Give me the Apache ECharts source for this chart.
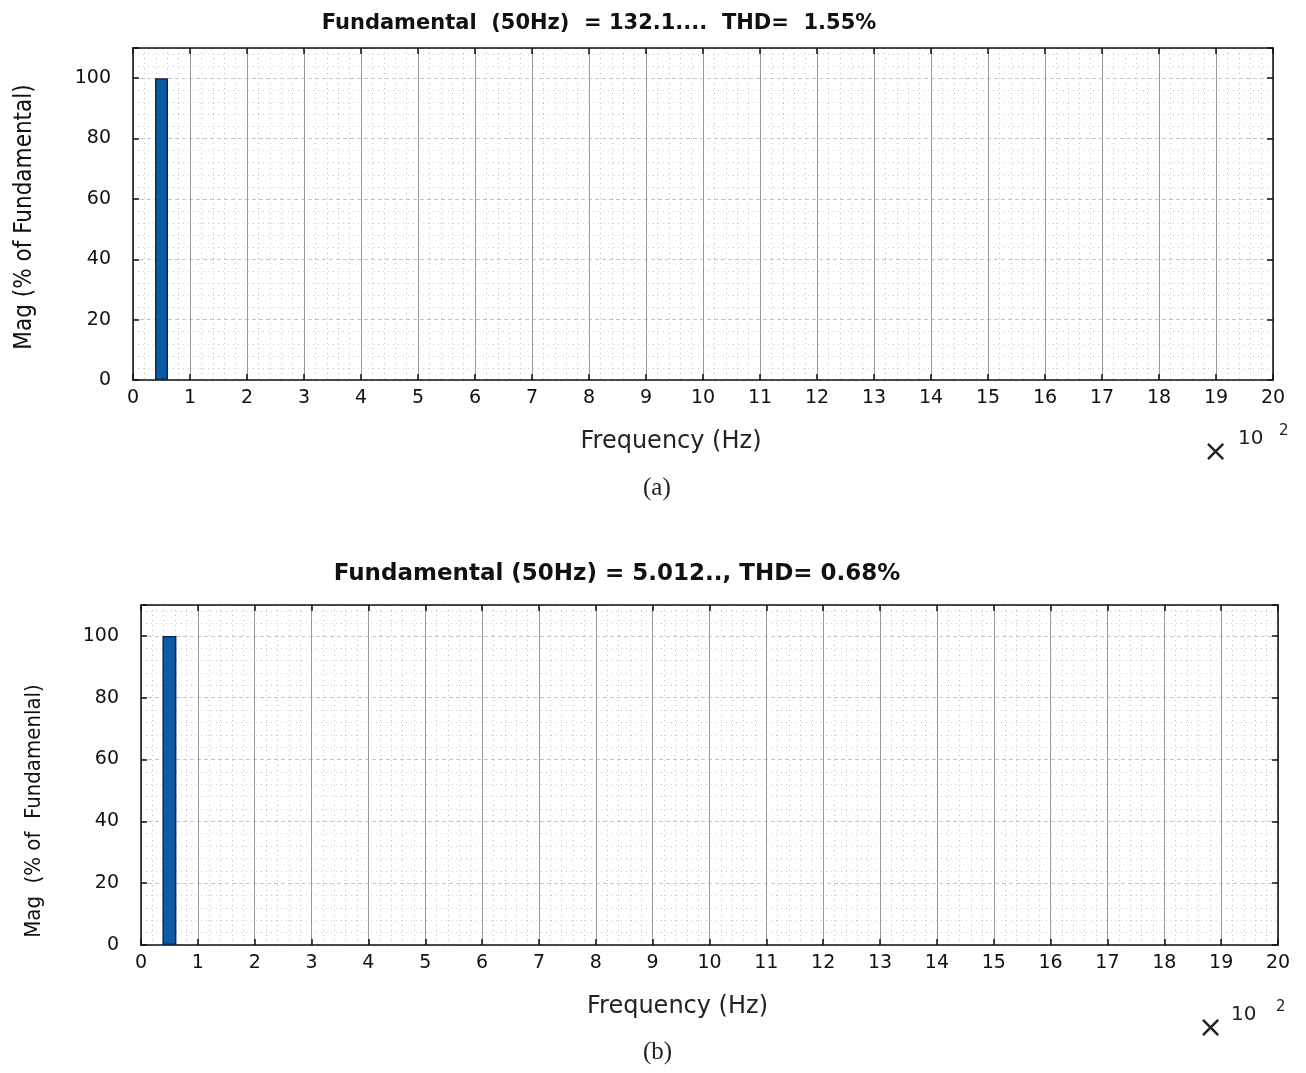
<!DOCTYPE html>
<html><head><meta charset="utf-8">
<script src="https://cdn.jsdelivr.net/npm/echarts@6/dist/echarts.min.js"></script>
<style>html,body{margin:0;padding:0;background:#fff}#c{width:1306px;height:1073px}</style>
</head><body><div id="c"></div>
<script>
// Harmonic spectrum data (frequency in units of x10^2 Hz, magnitude in % of fundamental)
const freqA = [0.5];
const magA = [100];
const freqB = [0.5];
const magB = [100];
const xTicks = ['0','1','2','3','4','5','6','7','8','9','10','11','12','13','14','15','16','17','18','19','20'];
const yTicks = ['0','20','40','60','80','100'];
const titleA = 'Fundamental  (50Hz)  = 132.1....  THD=  1.55%';
const titleB = 'Fundamental (50Hz) = 5.012.., THD= 0.68%';

const chart = echarts.init(document.getElementById('c'));
const tickFont = {fontFamily:'DejaVu Sans', fontSize:19, color:'#111'};

function xAxes(gi){
  const base = {gridIndex:gi, type:'value', min:0, max:20, interval:1,
    axisLine:{show:true, onZero:false, lineStyle:{color:'#111', width:1.5}},
    axisTick:{show:true, inside:true, length:6, lineStyle:{color:'#111', width:1.5}},
  };
  return [
    Object.assign({}, base, {position:'bottom',
      axisLabel:Object.assign({margin:9, formatter:v=>xTicks[v]}, tickFont),
      name:'Frequency (Hz)', nameLocation:'middle', nameGap:50,
      nameTextStyle:{fontFamily:'DejaVu Sans', fontSize:24, color:'#222', padding:[0,64,0,0]},
      splitLine:{show:true, lineStyle:{color:'#999', width:1, type:'solid'}},
      minorTick:{show:true, splitNumber:5, length:0},
      minorSplitLine:{show:true, lineStyle:{color:'#bdbdbd', width:1, type:[1,4]}}
    }),
    Object.assign({}, base, {position:'top', axisLabel:{show:false}, splitLine:{show:false}})
  ];
}
function yAxes(gi, nameText, nameFont){
  const base = {gridIndex:gi, type:'value', min:0, max:110, interval:20,
    axisLine:{show:true, onZero:false, lineStyle:{color:'#111', width:1.5}},
    axisTick:{show:true, inside:true, length:6, lineStyle:{color:'#111', width:1.5}},
  };
  return [
    Object.assign({}, base, {position:'left',
      axisLabel:Object.assign({margin:22, formatter:v=>yTicks[v/20]}, tickFont),
      name:nameText, nameLocation:'middle', nameGap:96, nameRotate:90,
      nameTextStyle:nameFont,
      splitLine:{show:true, lineStyle:{color:'#c4c4c4', width:1, type:[4,3]}},
      minorTick:{show:true, splitNumber:5, length:0},
      minorSplitLine:{show:true, lineStyle:{color:'#cdcdcd', width:1, type:[1,4]}}
    }),
    Object.assign({}, base, {position:'right', axisLabel:{show:false}, splitLine:{show:false}})
  ];
}

const option = {
  animation:false,
  backgroundColor:'#fff',
  title:[
    {text:titleA, left:594, top:8, textAlign:'center',
     textStyle:{fontFamily:'DejaVu Sans', fontWeight:'bold', fontSize:21, color:'#111'}},
    {text:titleB, left:612, top:558, textAlign:'center',
     textStyle:{fontFamily:'DejaVu Sans', fontWeight:'bold', fontSize:23, color:'#111'}}
  ],
  grid:[
    {left:133, right:33, top:48, height:332},
    {left:141, right:28, top:605, height:340}
  ],
  xAxis:[...xAxes(0), ...xAxes(1)],
  yAxis:[...yAxes(0,'Mag (% of Fundamental)',{fontFamily:'DejaVu Sans Condensed', fontSize:24, color:'#111', padding:[0,6,0,0]}),
         ...yAxes(1,'Mag  (% of  Fundamenlal)',{fontFamily:'DejaVu Sans Condensed', fontSize:22, color:'#111', padding:[0,72,0,0]})],
  series:[
    {type:'bar', xAxisIndex:0, yAxisIndex:0, barWidth:13,
     data:freqA.map((f,i)=>[f,magA[i]]),
     itemStyle:{color:'#0d5aa7', borderColor:'#0a2b5a', borderWidth:1.5}},
    {type:'bar', xAxisIndex:2, yAxisIndex:2, barWidth:14,
     data:freqB.map((f,i)=>[f,magB[i]]),
     itemStyle:{color:'#0d5aa7', borderColor:'#0a2b5a', borderWidth:1.5}}
  ],
  graphic:[
    {type:'text', left:1203, top:438, style:{text:'×', font:'30px DejaVu Sans', fill:'#222'}},
    {type:'text', left:1238, top:429, style:{text:'10', font:'20px DejaVu Sans', fill:'#222'}},
    {type:'text', left:1279, top:424, style:{text:'2', font:'15px DejaVu Sans', fill:'#222'}},
    {type:'text', left:1198, top:1014, style:{text:'×', font:'30px DejaVu Sans', fill:'#222'}},
    {type:'text', left:1231, top:1005, style:{text:'10', font:'20px DejaVu Sans', fill:'#222'}},
    {type:'text', left:1276, top:1000, style:{text:'2', font:'15px DejaVu Sans', fill:'#222'}},
    {type:'text', left:643, top:476, style:{text:'(a)', font:'25px Liberation Serif', fill:'#222'}},
    {type:'text', left:643, top:1040, style:{text:'(b)', font:'25px Liberation Serif', fill:'#222'}}
  ]
};
chart.setOption(option);
</script></body></html>
